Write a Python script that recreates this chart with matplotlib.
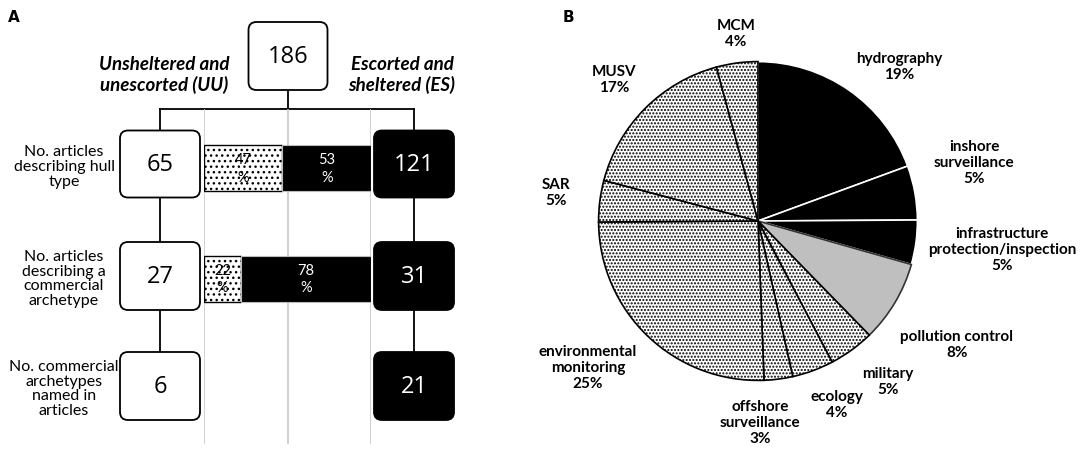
import matplotlib
matplotlib.use("Agg")
import matplotlib.pyplot as plt
from matplotlib.patches import FancyBboxPatch

plt.rcParams['font.family'] = ['Lato', 'DejaVu Sans']

W, H = 1083, 452

# ---- panel A data ----
total = 186
uu_counts = [65, 27, 6]
es_counts = [121, 31, 21]
row_labels = ["No. articles\ndescribing hull\ntype",
              "No. articles\ndescribing a\ncommercial\narchetype",
              "No. commercial\narchetypes\nnamed in\narticles"]
uu_pct = [47, 22]
es_pct = [53, 78]

# ---- panel B data ----
uses = ["hydrography", "inshore\nsurveillance", "infrastructure\nprotection/inspection",
        "pollution control", "military", "ecology", "offshore\nsurveillance",
        "environmental\nmonitoring", "SAR", "MUSV", "MCM"]
share = [19.4, 5.5, 4.5, 8.3, 4.6, 4.2, 2.9, 25.5, 4.2, 16.7, 4.2]
share_lbl = [19, 5, 5, 8, 5, 4, 3, 25, 5, 17, 4]

fig = plt.figure(figsize=(W / 100, H / 100), dpi=100)
ax = fig.add_axes([0, 0, 1, 1])
ax.set_xlim(0, W)
ax.set_ylim(H, 0)
ax.axis('off')

# layout (pixel units)
row_y = [165, 277, 387]
box_h = [67, 68, 68]
x_uu, x_es, box_w = 160, 414, 80
top_x, top_y = 288, 57


def box(cx, cy, w, h, dark, txt):
    p = FancyBboxPatch((cx - w / 2, cy - h / 2), w, h,
                       boxstyle="round,pad=0,rounding_size=8",
                       fc='black' if dark else 'white', ec='black', lw=1.3, zorder=3)
    ax.add_patch(p)
    ax.text(cx, cy, str(txt), ha='center', va='center', fontsize=17,
            color='white' if dark else 'black', zorder=4,
            family=['Open Sans', 'DejaVu Sans'])


box(top_x, top_y, 79, 68, False, total)
for i in range(3):
    box(x_uu, row_y[i], box_w, box_h[i], False, uu_counts[i])
    box(x_es, row_y[i], box_w, box_h[i], True, es_counts[i])
    ax.text(64, row_y[i] + 2, row_labels[i], ha='center', va='center',
            fontsize=11.5, linespacing=1.05)

# connectors
ax.plot([top_x, top_x], [top_y + 34, 110], color='black', lw=1.3, zorder=2)
ax.plot([x_uu, x_es], [110, 110], color='black', lw=1.3, zorder=2)
for x in (x_uu, x_es):
    ax.plot([x, x], [110, row_y[2]], color='black', lw=1.3, zorder=2)

ax.text(164, 75, "Unsheltered and\nunescorted (UU)", ha='center', va='center',
        fontsize=13.5, fontweight='bold', style='italic', linespacing=1.2)
ax.text(402, 75, "Escorted and\nsheltered (ES)", ha='center', va='center',
        fontsize=13.5, fontweight='bold', style='italic', linespacing=1.2)
ax.text(8, 17, "A", fontsize=11, fontweight='bold', va='center',
        family=['DejaVu Sans'])
ax.text(563, 17, "B", fontsize=11, fontweight='bold', va='center',
        family=['DejaVu Sans'])

# percentage bars
bx0, bx1, by0, by1 = 204, 371, 110, 445
axb = fig.add_axes([bx0 / W, (H - by1) / H, (bx1 - bx0) / W, (by1 - by0) / H])
axb.set_xlim(0, 100)
axb.set_ylim(by1, by0)
axb.axis('off')
for g in (0, 50, 100):
    axb.axvline(g, color='#c8c8c8', lw=1.2, zorder=0)
bar_y = [169, 279.5]
plt.rcParams['hatch.linewidth'] = 1.0
axb.barh(bar_y, uu_pct, height=46, color='white', edgecolor='black',
         hatch='...', lw=1.0, zorder=2)
axb.barh(bar_y, es_pct, left=uu_pct, height=46, color='black',
         edgecolor='#bbbbbb', lw=0.8, zorder=2)
for y, a, b in zip(bar_y, uu_pct, es_pct):
    axb.text(a / 2, y, f"{a}\n%", ha='center', va='center', fontsize=10.5,
             linespacing=1.3, zorder=3)
    axb.text(a + b / 2, y, f"{b}\n%", ha='center', va='center', fontsize=10.5,
             color='white', linespacing=1.3, zorder=3)

# ---- panel B pie ----
cx, cy, r = 758, 222, 161
axp = fig.add_axes([(cx - r) / W, (H - cy - r) / H, 2 * r / W, 2 * r / H])
fills = ['black'] * 3 + ['#bfbfbf'] + ['white'] * 7
edges = ['white'] * 3 + ['#333333'] + ['black'] * 7
plt.rcParams['hatch.linewidth'] = 1.0
wedges, _ = axp.pie(share, startangle=90, counterclock=False, radius=1,
                    colors=fills, wedgeprops=dict(lw=1.2))
for w, fc, ec in zip(wedges, fills, edges):
    w.set_edgecolor(ec)
    if fc == 'white':
        w.set_hatch('.....')
axp.set_xlim(-1.01, 1.01)
axp.set_ylim(-1.01, 1.01)

lbl_pos = [(899, 67), (974, 163), (1002, 250), (957, 345), (888, 382),
           (837, 405), (760, 423), (588, 368), (556, 193), (614, 80), (736, 34)]
for name, p, (lx, ly) in zip(uses, share_lbl, lbl_pos):
    ax.text(lx, ly, f"{name}\n{p}%", ha='center', va='center', fontsize=11,
            fontweight='bold', linespacing=1.15)

fig.savefig("out.png", dpi=100)
